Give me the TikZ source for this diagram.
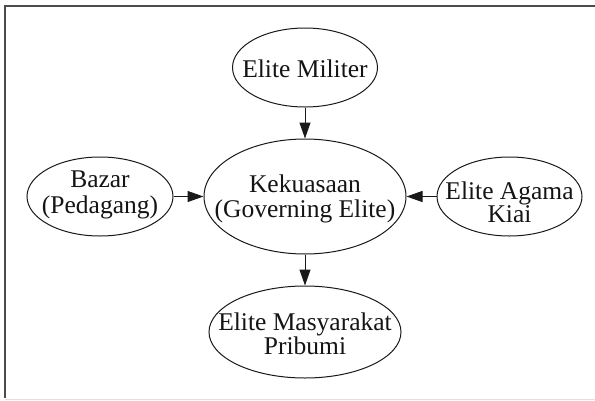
\documentclass[tikz,border=0pt]{standalone}
\usepackage{fontspec}
\setmainfont{Liberation Serif}
\usetikzlibrary{shapes.geometric,arrows.meta}
\begin{document}
\begin{tikzpicture}[x=1pt,y=-1pt,
  oval/.style={ellipse, draw=black!90, line width=1pt, inner sep=0pt},
  lbl/.style={align=center, text=black!92, inner sep=0pt},
  arr/.style={draw=black!90, line width=1pt, -{Triangle[length=16pt,width=11pt]}}
]
\useasboundingbox (0,0) rectangle (595,400);
% frame
\draw[black!70, line width=1.2pt] (5,398) -- (5,6) -- (595,6);
\draw[black!12, line width=0.8pt] (5,399) -- (595,399);

\node[oval, minimum width=145pt, minimum height=79pt,
  label={[lbl, yshift=-1.5pt, font=\fontsize{25.5}{25}\selectfont]center:{Elite Militer}}]
  (militer) at (305,67.5) {};
\node[oval, minimum width=202pt, minimum height=115pt,
  label={[lbl, yshift=-2.5pt, font=\fontsize{25.5}{25}\selectfont]center:{Kekuasaan\\(Governing Elite)}}]
  (kek) at (305,196.5) {};
\node[oval, minimum width=146pt, minimum height=79pt,
  label={[lbl, yshift=2pt, font=\fontsize{25.5}{26}\selectfont]center:{Bazar\\(Pedagang)}}]
  (bazar) at (100,196.5) {};
\node[oval, minimum width=145pt, minimum height=79pt,
  label={[lbl, yshift=-5.5pt, font=\fontsize{25.5}{23}\selectfont]center:{Elite Agama\\Kiai}}]
  (agama) at (509.5,196.5) {};
\node[oval, minimum width=192pt, minimum height=92pt,
  label={[lbl, yshift=-2pt, font=\fontsize{25.5}{22}\selectfont]center:{Elite Masyarakat\\Pribumi}}]
  (masy) at (305,332) {};

\draw[arr] (militer) -- (kek);
\draw[arr] (kek) -- (masy);
\draw[arr] (bazar) -- (kek);
\draw[arr] (agama) -- (kek);
\end{tikzpicture}
\end{document}
